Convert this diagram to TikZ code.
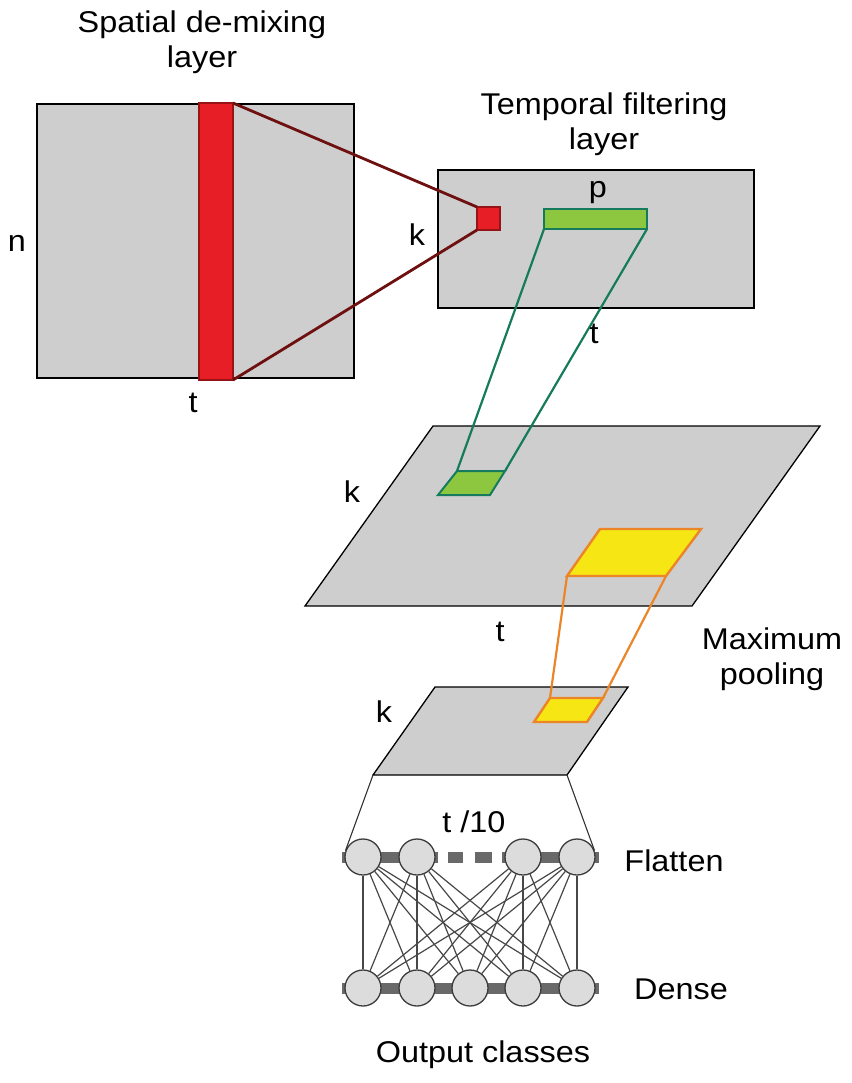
\documentclass[tikz,border=0pt]{standalone}
\usepackage{fontspec}
\setmainfont[FakeStretch=1.08]{Liberation Sans}
\definecolor{plane}{RGB}{206,206,206}
\definecolor{redfill}{RGB}{232,30,38}
\definecolor{rededge}{RGB}{150,20,20}
\definecolor{redline}{RGB}{110,16,16}
\definecolor{greenfill}{RGB}{141,198,63}
\definecolor{greenedge}{RGB}{22,122,92}
\definecolor{yellowfill}{RGB}{245,230,20}
\definecolor{orangeedge}{RGB}{236,132,40}
\definecolor{neuronfill}{RGB}{220,220,220}
\definecolor{neuronedge}{RGB}{60,60,60}
\definecolor{barcol}{RGB}{105,105,105}
\tikzset{
  lbl/.style={font=\fontsize{30}{35}\selectfont, inner sep=0pt, align=center},
  planebox/.style={draw=black, line width=1.3pt, fill=plane, inner sep=0pt, outer sep=0pt},
  planepara/.style={draw=black, line width=1.3pt, fill=plane, line join=miter},
  redbox/.style={draw=rededge, line width=1.3pt, fill=redfill, inner sep=0pt, outer sep=0pt},
  redlink/.style={draw=redline, line width=2.8pt},
  greenbox/.style={draw=greenedge, line width=2pt, fill=greenfill, inner sep=0pt, outer sep=0pt},
  greenlink/.style={draw=greenedge, line width=2.2pt},
  yellowpara/.style={draw=orangeedge, line width=2.4pt, fill=yellowfill, line join=miter},
  orangelink/.style={draw=orangeedge, line width=2.2pt},
  neuron/.style={circle, draw=neuronedge, line width=1.3pt, fill=neuronfill, minimum size=36pt, inner sep=0pt},
  rowbar/.style={draw=barcol, line width=11pt},
  synapse/.style={draw=black!72, line width=1.2pt},
  funnel/.style={draw=black!80, line width=1.1pt}
}
\begin{document}
\begin{tikzpicture}[x=1pt,y=-1pt]
\useasboundingbox[fill=white] (0,0) rectangle (851,1083);

% ---------- titles ----------
\node[lbl] (tspatial) at (202,42.5) {Spatial de-mixing\\layer};
\node[lbl] (ttemporal) at (604,124.5) {Temporal filtering\\layer};

% ---------- spatial de-mixing layer ----------
\node[planebox, minimum width=317pt, minimum height=274pt] (sq) at (195.5,241) {};
\node[redbox, minimum width=34pt, minimum height=277pt] (rb) at (216,241.5) {};
\node[lbl] (ln) at (17,243) {n};
\node[lbl] (lt1) at (193,403) {t};

% ---------- temporal filtering layer ----------
\node[planebox, minimum width=316pt, minimum height=138pt] (tf) at (596,239) {};
\node[redbox, minimum width=23pt, minimum height=23pt] (rs) at (488.5,218.5) {};
\node[greenbox, minimum width=103pt, minimum height=20pt] (gb) at (595.5,219) {};
\node[lbl] (lk1) at (417,235) {k};
\node[lbl] (lp) at (598,193) {p};

\draw[redlink] (rb.north east) -- (rs.north west);
\draw[redlink] (rb.south east) -- (rs.south west);

% ---------- convolution output plane ----------
\coordinate (P1) at (433,426);
\coordinate (P2) at (820,426);
\coordinate (P3) at (692,606);
\coordinate (P4) at (305,606);
\draw[planepara] (P1) -- (P2) -- (P3) -- (P4) -- cycle;

\coordinate (G1) at (457,471);
\coordinate (G2) at (505,471);
\coordinate (G3) at (490,495);
\coordinate (G4) at (438,495);
\draw[greenbox] (G1) -- (G2) -- (G3) -- (G4) -- cycle;

\draw[greenlink] (gb.south west) -- (G1);
\draw[greenlink] (gb.south east) -- (G2);
\node[lbl] (lt2) at (594,334) {t};

\coordinate (Y1) at (600,529);
\coordinate (Y2) at (701,529);
\coordinate (Y3) at (666,576);
\coordinate (Y4) at (567,576);
\draw[yellowpara] (Y1) -- (Y2) -- (Y3) -- (Y4) -- cycle;

\node[lbl] (lk2) at (352,492) {k};
\node[lbl] (lt3) at (500,632) {t};
\node[lbl] (tmax) at (772,659.5) {Maximum\\pooling};

% ---------- pooled plane ----------
\coordinate (Q1) at (435,687);
\coordinate (Q2) at (628,687);
\coordinate (Q3) at (567,775);
\coordinate (Q4) at (373,775);
\draw[planepara] (Q1) -- (Q2) -- (Q3) -- (Q4) -- cycle;

\coordinate (S1) at (550,698);
\coordinate (S2) at (603,698);
\coordinate (S3) at (587,722);
\coordinate (S4) at (534,722);
\draw[yellowpara] (S1) -- (S2) -- (S3) -- (S4) -- cycle;

\draw[orangelink] (Y4) -- (S1);
\draw[orangelink] (Y3) -- (S2);
\node[lbl] (lk3) at (384,712) {k};

% ---------- flatten / dense ----------
\draw[rowbar, dash pattern=on 96pt off 10pt on 15pt off 12pt on 17pt off 10pt on 97pt] (342,857) -- (599,857);
\draw[rowbar] (342,988) -- (599,988);

\node[neuron] (f1) at (363,857) {};
\node[neuron] (f2) at (417,857) {};
\node[neuron] (f3) at (523,857) {};
\node[neuron] (f4) at (577,857) {};
\node[neuron] (d1) at (363,988) {};
\node[neuron] (d2) at (417,988) {};
\node[neuron] (d3) at (470,988) {};
\node[neuron] (d4) at (523,988) {};
\node[neuron] (d5) at (577,988) {};

\foreach \f in {1,2,3,4}{
  \foreach \d in {1,2,3,4,5}{
    \draw[synapse] (f\f) -- (d\d);
  }
}

\draw[funnel] (Q4) -- (f1.160);
\draw[funnel] (Q3) -- (f4.20);

\node[lbl, anchor=base] (tt10) at (474,832) {t /10};
\node[lbl, anchor=base] (tflat) at (674,871) {Flatten};
\node[lbl, anchor=base] (tdense) at (681,999) {Dense};
\node[lbl, anchor=base] (tout) at (483,1062) {Output classes};
\end{tikzpicture}
\end{document}
